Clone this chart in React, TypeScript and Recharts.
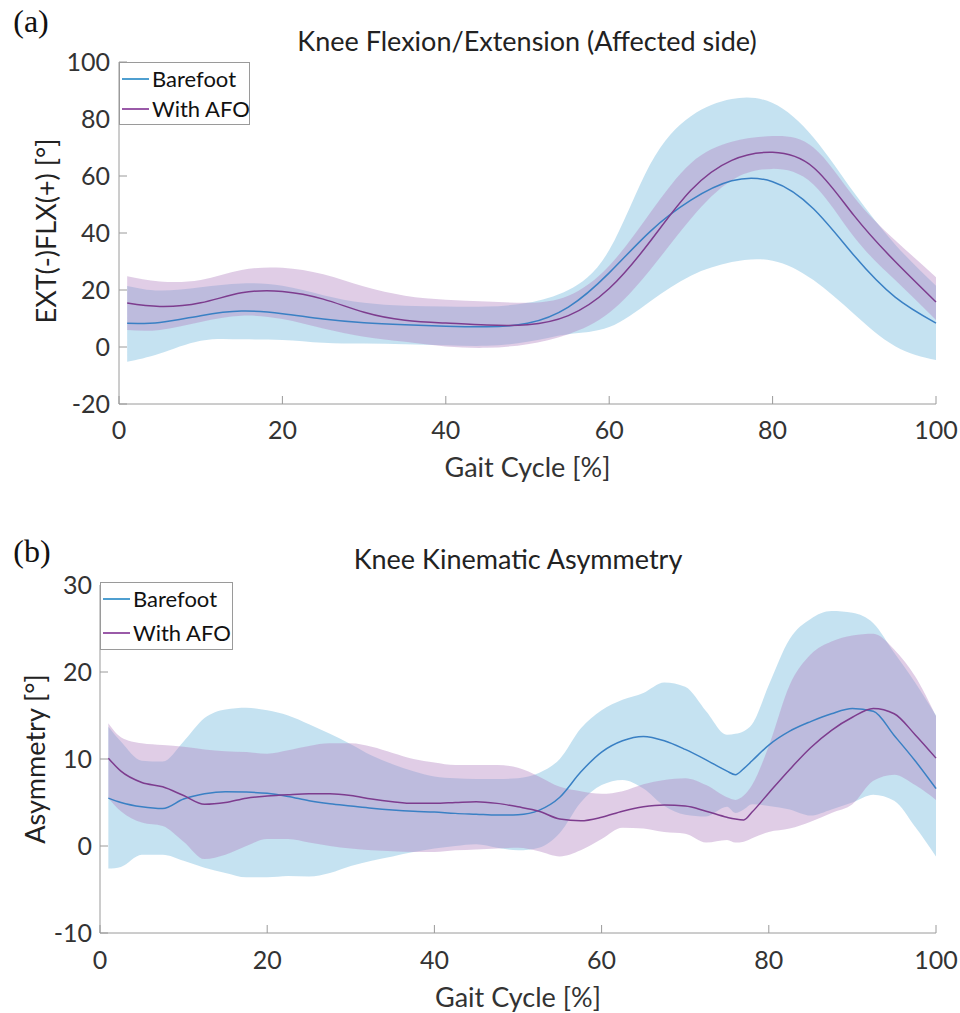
import { Area, ComposedChart, Line, XAxis, YAxis } from "recharts"

// gait cycle samples (%)
const kneeGait = [1, 5, 10, 15, 20, 25, 30, 35, 40, 45, 50, 55, 60, 65, 70, 75, 80, 85, 90, 95, 100]

// (a) knee flexion/extension, barefoot
const kneeBfMean = [8.3, 8.6, 11.0, 12.6, 11.7, 9.8, 8.5, 7.8, 7.3, 7.1, 8.3, 14, 26, 40.5, 51.5, 58.3, 58, 48.5, 32, 17.5, 8.4]
const kneeBfLo = [-5.2, -2.3, 2.2, 2.7, 2.5, 1.5, 1.2, 1.0, 0.6, 0.4, 1.8, 4.5, 7.0, 16, 25, 29.8, 30.3, 23.5, 11.5, 0.3, -4.6]
const kneeBfHi = [21.4, 19.8, 21, 22.3, 21.5, 18.2, 15.5, 14.5, 14.2, 14.2, 15.5, 20, 34, 64, 81, 87, 85.6, 73.5, 54, 36, 21.5]

// (a) knee flexion/extension, with AFO
const kneeAfoMean = [15.4, 14.2, 15.5, 19, 19.5, 16.8, 12.2, 9.4, 8.4, 7.7, 7.8, 11, 20.5, 37, 55, 65.5, 68.3, 63, 46, 30, 15.8]
const kneeAfoLo = [6, 6, 8.8, 11, 9.8, 6.5, 3.6, 1.8, 0.2, -0.3, 1.0, 4.5, 12, 27, 45, 58.5, 62.5, 57, 38.5, 23.5, 9.5]
const kneeAfoHi = [24.8, 23, 23.5, 27, 27.8, 25.5, 21.2, 18, 16.6, 16, 15.5, 18, 28.5, 47, 64.5, 72, 74, 70, 52.5, 37.5, 24.5]

// (b) asymmetry samples (%)
const asymGait = [1, 2.5, 5, 7.5, 10, 12.5, 15, 17.5, 20, 22.5, 25, 27.5, 30, 32.5, 35, 37.5, 40, 42.5, 45, 47.5, 50, 52.5, 55, 57.5, 60, 62.5, 65, 67.5, 70, 72.5, 75, 76, 77, 78, 80, 82.5, 85, 87.5, 90, 92.5, 95, 97.5, 100]

const asymBfMean = [5.5, 5.0, 4.5, 4.3, 5.4, 6.0, 6.25, 6.2, 6.05, 5.7, 5.2, 4.85, 4.6, 4.35, 4.15, 4.0, 3.9, 3.75, 3.65, 3.55, 3.6, 4.1, 5.6, 8.5, 10.8, 12.1, 12.6, 12.1, 11.1, 9.9, 8.6, 8.2, 8.9, 9.8, 11.6, 13.2, 14.3, 15.2, 15.8, 15.5, 12.7, 9.8, 6.6]
const asymBfLo = [-2.6, -2.4, -1.0, -1.0, -1.7, -2.5, -3.1, -3.6, -3.6, -3.45, -3.5, -3.1, -2.3, -1.7, -1.2, -0.7, -0.3, 0, 0.2, -0.2, -0.5, -0.2, 1.5, 5.0, 7.0, 7.6, 6.6, 4.6, 3.6, 3.4, 4.5, 3.8, 4.2, 4.8, 4.6, 4.2, 3.5, 4.2, 5.0, 5.9, 5.2, 2.2, -1.2]
const asymBfHi = [13.7, 12.0, 9.8, 9.7, 12.0, 14.7, 15.7, 15.9, 15.6, 15.0, 14.0, 12.9, 11.7, 10.4, 9.4, 8.6, 8.0, 7.8, 7.7, 7.7, 7.8, 8.4, 10.0, 13.5, 15.6, 16.8, 17.6, 18.8, 18.3, 15.5, 12.8, 12.9, 13.2, 14.0, 18.5, 23.8, 26.1, 27, 26.8, 25.6, 22.2, 18.8, 15]

const asymAfoMean = [10.1, 8.6, 7.3, 6.8, 5.8, 4.8, 5.0, 5.5, 5.75, 5.9, 6.0, 6.0, 5.8, 5.4, 5.1, 4.9, 4.9, 5.0, 5.1, 4.9, 4.5, 4.0, 3.1, 2.9, 3.3, 4.0, 4.5, 4.7, 4.6, 4.0, 3.3, 3.1, 3.0, 3.9, 6.1, 8.8, 11.3, 13.3, 14.8, 15.8, 15.2, 12.8, 10.1]
const asymAfoLo = [5.5, 4.0, 2.7, 2.3, 0.5, -1.5, -1.0, 0.0, 0.8, 0.8, 0.4, 0.0, -0.3, -0.5, -0.6, -0.7, -0.7, -0.5, -0.4, -0.3, -0.2, -0.6, -1.2, -0.5, 0.8, 2.1, 2.0, 1.6, 1.4, 0.4, 0.7, 0.4, 0.5, 0.9, 1.6, 2.0, 2.8, 3.8, 4.8, 7.5, 8.2, 7.0, 5.3]
const asymAfoHi = [14.1, 12.5, 11.8, 11.6, 11.4, 11.1, 10.9, 10.8, 10.6, 11.0, 11.5, 11.8, 11.8, 11.4, 10.7, 10.0, 9.6, 9.3, 9.3, 9.3, 9.0, 8.0, 6.8, 6.3, 6.0, 6.3, 7.1, 7.6, 7.8, 7.0, 5.6, 5.3, 5.8, 7.0, 11.5, 18.5, 22, 23.5, 24.2, 24.4, 22.6, 19.5, 14.9]

const gaitTicks = [0, 20, 40, 60, 80, 100]
const kneeTicks = [-20, 0, 20, 40, 60, 80, 100]
const asymTicks = [-10, 0, 10, 20, 30]

const FONT = "Lato, 'Open Sans', sans-serif"
const BLUE = "#3a80c4"
const PURPLE = "#7d3c8e"
const AXIS = "#9a9a9a"

function rows(g: number[], bm: number[], bl: number[], bh: number[], am: number[], al: number[], ah: number[]) {
  return g.map((x, i) => ({
    g: x,
    bf: bm[i],
    bfBand: [bl[i], bh[i]],
    afo: am[i],
    afoBand: [al[i], ah[i]],
  }))
}

const kneeData = rows(kneeGait, kneeBfMean, kneeBfLo, kneeBfHi, kneeAfoMean, kneeAfoLo, kneeAfoHi)
const asymData = rows(asymGait, asymBfMean, asymBfLo, asymBfHi, asymAfoMean, asymAfoLo, asymAfoHi)

type PanelProps = {
  data: any[]
  top: number
  height: number
  marginTop: number
  yWidth: number
  xHeight: number
  domain: [number, number]
  yTicks: number[]
  xTickMargin: number
  yTickMargin: number
  labelOffset: number
  curve: "natural" | "monotone"
}

function Panel(p: PanelProps) {
  return (
    <div style={{ position: "absolute", left: 0, top: p.top }}>
      <ComposedChart width={960} height={p.height} data={p.data} margin={{ top: p.marginTop, right: 24, bottom: 0, left: 0 }}>
        <XAxis
          dataKey="g"
          type="number"
          domain={[0, 100]}
          ticks={gaitTicks}
          height={p.xHeight}
          stroke={AXIS}
          tickSize={-8}
          tickMargin={p.xTickMargin}
          tick={{ fontSize: 25, fill: "#333", fontFamily: FONT }}
          label={{ value: "Gait Cycle [%]", position: "insideBottom", offset: p.labelOffset, fontSize: 27, fill: "#333", fontFamily: FONT }}
        />
        <YAxis
          type="number"
          domain={p.domain}
          ticks={p.yTicks}
          width={p.yWidth}
          stroke={AXIS}
          tickSize={-8}
          tickMargin={p.yTickMargin}
          allowDataOverflow
          tick={{ fontSize: 25, fill: "#333", fontFamily: FONT }}
        />
        <Area dataKey="bfBand" type={p.curve} stroke="none" fill="#7fbfdf" fillOpacity={0.45} isAnimationActive={false} />
        <Area dataKey="afoBand" type={p.curve} stroke="none" fill="#b182c0" fillOpacity={0.4} isAnimationActive={false} />
        <Line dataKey="bf" type={p.curve} stroke={BLUE} strokeWidth={1.5} dot={false} isAnimationActive={false} />
        <Line dataKey="afo" type={p.curve} stroke={PURPLE} strokeWidth={1.5} dot={false} isAnimationActive={false} />
      </ComposedChart>
    </div>
  )
}

function Txt({ x, y, size, children, rotate, serif }: { x: number; y: number; size: number; children: any; rotate?: boolean; serif?: boolean }) {
  return (
    <div
      style={{
        position: "absolute",
        left: x,
        top: y,
        transform: `translate(-50%, -50%)${rotate ? " rotate(-90deg)" : ""}`,
        fontSize: size,
        fontFamily: serif ? "'Liberation Serif', serif" : FONT,
        color: serif ? "#111" : "#222",
        whiteSpace: "nowrap",
        lineHeight: 1,
      }}
    >
      {children}
    </div>
  )
}

function LegendBox({ left, top, width, height, rowY }: { left: number; top: number; width: number; height: number; rowY: number[] }) {
  const items = [
    { name: "Barefoot", color: "#4f9fd0" },
    { name: "With AFO", color: "#9a5aa8" },
  ]
  return (
    <div style={{ position: "absolute", left, top, width, height, border: "1px solid #9a9a9a", background: "#fff", boxSizing: "border-box" }}>
      {items.map((it, i) => (
        <div
          key={it.name}
          style={{ position: "absolute", left: 2, top: rowY[i], transform: "translateY(-50%)", display: "flex", alignItems: "center", whiteSpace: "nowrap" }}
        >
          <div style={{ width: 27, height: 1.3, background: it.color, marginRight: 3, flex: "none" }} />
          <span style={{ fontSize: 22, fontFamily: FONT, color: "#111", lineHeight: 1 }}>{it.name}</span>
        </div>
      ))}
    </div>
  )
}

export default function App() {
  return (
    <div style={{ position: "absolute", left: 0, top: 0, width: 960, height: 1013, background: "#fff" }}>
      <Panel data={kneeData} top={0} height={500} marginTop={62} yWidth={119} xHeight={96} domain={[-20, 100]} yTicks={kneeTicks} xTickMargin={25} yTickMargin={17} labelOffset={23} curve="natural" />
      <Panel data={asymData} top={520} height={493} marginTop={65} yWidth={100} xHeight={80} domain={[-10, 30]} yTicks={asymTicks} xTickMargin={26} yTickMargin={16} labelOffset={6} curve="monotone" />

      <Txt x={31} y={21} size={32} serif>(a)</Txt>
      <Txt x={32} y={551} size={32} serif>(b)</Txt>
      <Txt x={527} y={40} size={27}>Knee Flexion/Extension (Affected side)</Txt>
      <Txt x={518} y={558} size={27}>Knee Kinematic Asymmetry</Txt>
      <Txt x={45} y={231} size={27} rotate>EXT(-)FLX(+) [°]</Txt>
      <Txt x={34} y={759} size={27} rotate>Asymmetry [°]</Txt>

      <LegendBox left={119} top={62} width={131} height={63} rowY={[16, 46]} />
      <LegendBox left={100} top={582} width={133} height={68} rowY={[16, 50]} />
    </div>
  )
}
